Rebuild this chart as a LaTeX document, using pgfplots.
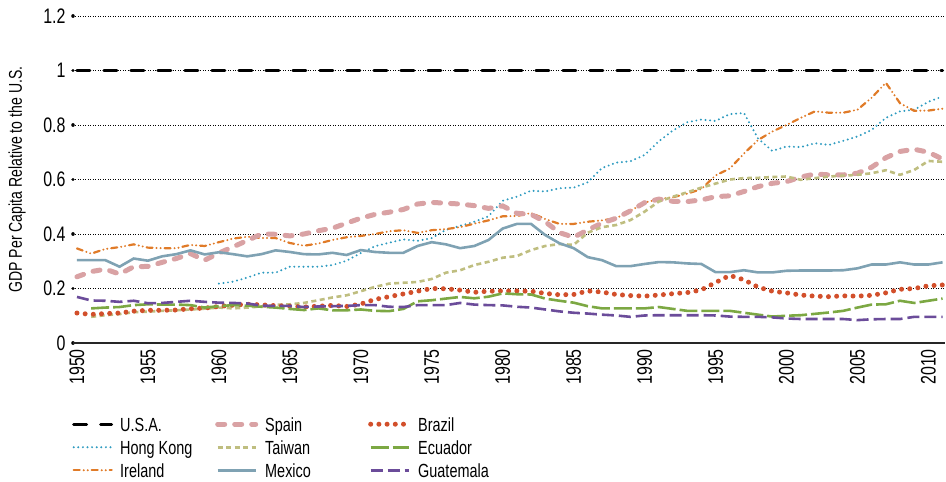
\documentclass[border=0pt]{standalone}
\usepackage{fontspec}
\setmainfont{Liberation Sans}[FakeStretch=0.76]
\usepackage{pgfplots}
\usepackage{pgfplotstable}
\pgfplotsset{compat=1.18}
\definecolor{cHK}{HTML}{2E9BC0}
\definecolor{cIRL}{HTML}{E07B28}
\definecolor{cESP}{HTML}{D9A2A4}
\definecolor{cTWN}{HTML}{BFBE80}
\definecolor{cMEX}{HTML}{7FA2B3}
\definecolor{cBRA}{HTML}{D24F2B}
\definecolor{cECU}{HTML}{7CA843}
\definecolor{cGTM}{HTML}{6B4C9A}
\pgfplotstableread{
year USA HK IRL ESP TWN MEX BRA ECU GTM
1950 1 nan 0.347 0.243 nan 0.304 0.110 nan 0.169
1951 1 nan 0.328 0.262 0.096 0.304 0.105 0.127 0.156
1952 1 nan 0.345 0.271 0.102 0.304 0.108 0.130 0.155
1953 1 nan 0.352 0.253 0.106 0.280 0.110 0.132 0.151
1954 1 nan 0.362 0.280 0.113 0.310 0.117 0.139 0.155
1955 1 nan 0.350 0.281 0.115 0.302 0.120 0.142 0.146
1956 1 nan 0.348 0.296 0.118 0.318 0.120 0.141 0.147
1957 1 nan 0.348 0.310 0.120 0.326 0.121 0.141 0.151
1958 1 nan 0.360 0.328 0.123 0.340 0.126 0.139 0.155
1959 1 nan 0.356 0.304 0.126 0.325 0.128 0.130 0.151
1960 1 0.218 0.370 0.330 0.130 0.333 0.134 0.135 0.148
1961 1 0.225 0.383 0.353 0.127 0.326 0.139 0.139 0.147
1962 1 0.240 0.390 0.376 0.130 0.318 0.142 0.137 0.145
1963 1 0.258 0.385 0.400 0.134 0.326 0.140 0.133 0.137
1964 1 0.258 0.385 0.399 0.140 0.340 0.137 0.130 0.136
1965 1 0.280 0.367 0.393 0.142 0.334 0.135 0.125 0.136
1966 1 0.280 0.357 0.400 0.147 0.326 0.132 0.121 0.132
1967 1 0.280 0.365 0.412 0.157 0.325 0.135 0.127 0.134
1968 1 0.286 0.378 0.421 0.167 0.331 0.138 0.120 0.135
1969 1 0.302 0.388 0.440 0.175 0.323 0.134 0.120 0.136
1970 1 0.330 0.393 0.458 0.190 0.341 0.143 0.123 0.139
1971 1 0.355 0.400 0.472 0.206 0.334 0.160 0.118 0.139
1972 1 0.368 0.410 0.480 0.218 0.331 0.170 0.117 0.133
1973 1 0.380 0.414 0.490 0.221 0.331 0.180 0.125 0.132
1974 1 0.375 0.404 0.510 0.224 0.356 0.190 0.153 0.139
1975 1 0.385 0.414 0.516 0.235 0.370 0.200 0.157 0.139
1976 1 0.415 0.418 0.513 0.258 0.362 0.199 0.163 0.139
1977 1 0.430 0.425 0.510 0.267 0.348 0.194 0.169 0.147
1978 1 0.445 0.438 0.504 0.286 0.356 0.186 0.164 0.141
1979 1 0.465 0.450 0.494 0.298 0.378 0.190 0.170 0.139
1980 1 0.522 0.465 0.503 0.313 0.420 0.191 0.182 0.138
1981 1 0.537 0.466 0.476 0.319 0.437 0.191 0.179 0.133
1982 1 0.559 0.477 0.472 0.341 0.437 0.190 0.178 0.130
1983 1 0.556 0.455 0.445 0.356 0.396 0.182 0.163 0.123
1984 1 0.568 0.437 0.405 0.363 0.366 0.177 0.155 0.116
1985 1 0.570 0.437 0.388 0.360 0.348 0.178 0.148 0.111
1986 1 0.590 0.445 0.415 0.405 0.315 0.191 0.135 0.108
1987 1 0.642 0.450 0.440 0.425 0.304 0.187 0.127 0.104
1988 1 0.662 0.458 0.458 0.433 0.282 0.178 0.127 0.101
1989 1 0.667 0.485 0.485 0.451 0.282 0.174 0.127 0.096
1990 1 0.690 0.515 0.515 0.482 0.290 0.172 0.127 0.101
1991 1 0.740 0.528 0.528 0.519 0.297 0.176 0.132 0.102
1992 1 0.780 0.535 0.520 0.537 0.296 0.181 0.125 0.102
1993 1 0.810 0.548 0.519 0.553 0.292 0.185 0.118 0.102
1994 1 0.820 0.565 0.525 0.570 0.290 0.195 0.118 0.102
1995 1 0.815 0.615 0.537 0.585 0.260 0.222 0.118 0.101
1996 1 0.840 0.640 0.540 0.600 0.260 0.248 0.118 0.097
1997 1 0.844 0.695 0.556 0.605 0.267 0.232 0.111 0.096
1998 1 0.750 0.745 0.574 0.606 0.259 0.205 0.104 0.096
1999 1 0.705 0.776 0.586 0.609 0.259 0.190 0.097 0.094
2000 1 0.721 0.800 0.592 0.611 0.265 0.184 0.100 0.090
2001 1 0.719 0.826 0.609 0.599 0.266 0.176 0.102 0.088
2002 1 0.733 0.850 0.620 0.605 0.266 0.172 0.107 0.088
2003 1 0.727 0.845 0.617 0.611 0.266 0.170 0.112 0.088
2004 1 0.742 0.845 0.617 0.614 0.267 0.173 0.118 0.088
2005 1 0.758 0.856 0.623 0.617 0.274 0.172 0.130 0.084
2006 1 0.782 0.900 0.645 0.623 0.288 0.175 0.141 0.087
2007 1 0.826 0.955 0.680 0.634 0.288 0.184 0.142 0.088
2008 1 0.850 0.880 0.703 0.617 0.296 0.197 0.155 0.088
2009 1 0.856 0.852 0.711 0.635 0.288 0.200 0.147 0.096
2010 1 0.885 0.853 0.700 0.668 0.288 0.210 0.155 0.096
2011 1 0.905 0.860 0.675 0.665 0.296 0.213 0.163 0.096
}\gdp
\tikzset{
  sUSA/.style={black, line width=3pt, line cap=round, dash pattern=on 13pt off 14pt},
  sHK/.style={cHK, line width=2.2pt, line cap=round, dash pattern=on 0pt off 4.6pt},
  sIRL/.style={cIRL, line width=2.2pt, line cap=round, dash pattern=on 6pt off 4pt on 0pt off 4pt on 0pt off 4pt},
  sESP/.style={cESP, line width=5pt, line cap=round, dash pattern=on 7pt off 10pt},
  sTWN/.style={cTWN, line width=2.6pt, dash pattern=on 5pt off 3.5pt},
  sMEX/.style={cMEX, line width=2.6pt},
  sBRA/.style={cBRA, line width=5pt, line cap=round, dash pattern=on 0pt off 8.2pt},
  sECU/.style={cECU, line width=2.6pt, dash pattern=on 18pt off 4pt},
  sGTM/.style={cGTM, line width=2.6pt, dash pattern=on 12pt off 5pt},
}
\begin{document}
\begin{tikzpicture}
\useasboundingbox (-73pt,-139pt) rectangle (873pt,343pt);
\begin{axis}[
  at={(0pt,0pt)}, anchor=south west,
  scale only axis, width=872pt, height=327pt,
  xmin=1949.72, xmax=2011.17, ymin=0, ymax=1.2,
  xtick={1950,1955,1960,1965,1970,1975,1980,1985,1990,1995,2000,2005,2010},
  xticklabels={1950,1955,1960,1965,1970,1975,1980,1985,1990,1995,2000,2005,2010},
  ytick={0,0.2,0.4,0.6,0.8,1,1.2},
  yticklabels={0,0.2,0.4,0.6,0.8,1,1.2},
  axis x line=bottom, axis y line=left,
  axis line style={-},
  y axis line style={draw=none},
  x axis line style={black!85, line width=1.3pt},
  ymajorgrids,
  major grid style={black, line width=0.7pt, dash pattern=on 0.7pt off 1.8pt},
  xtick style={draw=none},
  ytick style={black, line width=3.5pt, line cap=round},
  major tick length=0.01pt, tick align=center,
  tick label style={font=\fontsize{21}{21}\selectfont},
  xticklabel style={rotate=90, anchor=east, inner xsep=6pt},
  yticklabel style={xshift=-4pt},
  ylabel={GDP Per Capita Relative to the U.S.},
  ylabel style={font=\fontsize{18.5}{18.5}\selectfont, at={(axis description cs:-0.064,0.5)}, anchor=center},
  legend style={at={(axis description cs:0,0)}, anchor=north west, xshift=-1pt, yshift=-72pt,
    draw=none, fill=none, inner sep=0pt, row sep=5pt,
    font=\fontsize{19}{19}\selectfont,
    nodes={inner sep=2pt, text height=14pt, text depth=0pt},
    /tikz/every odd column/.append style={column sep=5pt}},
  legend columns=3,
  legend cell align=left,
  legend image code/.code={\draw[#1] (0pt,0pt) -- (38pt,0pt);},
]
\addplot[sUSA, forget plot] table[x=year, y=USA] {\gdp};
\addplot[sHK, forget plot] table[x=year, y=HK] {\gdp};
\addplot[sIRL, forget plot] table[x=year, y=IRL] {\gdp};
\addplot[sESP, forget plot] table[x=year, y=ESP] {\gdp};
\addplot[sTWN, forget plot] table[x=year, y=TWN] {\gdp};
\addplot[sMEX, forget plot] table[x=year, y=MEX] {\gdp};
\addplot[sBRA, forget plot] table[x=year, y=BRA] {\gdp};
\addplot[sECU, forget plot] table[x=year, y=ECU] {\gdp};
\addplot[sGTM, forget plot] table[x=year, y=GTM] {\gdp};
\addlegendimage{sUSA}\addlegendentry{\makebox[93pt][l]{U.S.A.}}
\addlegendimage{sESP}\addlegendentry{\makebox[101pt][l]{Spain}}
\addlegendimage{sBRA}\addlegendentry{Brazil}
\addlegendimage{sHK}\addlegendentry{\makebox[93pt][l]{Hong Kong}}
\addlegendimage{sTWN}\addlegendentry{\makebox[101pt][l]{Taiwan}}
\addlegendimage{sECU}\addlegendentry{Ecuador}
\addlegendimage{sIRL}\addlegendentry{\makebox[93pt][l]{Ireland}}
\addlegendimage{sMEX}\addlegendentry{\makebox[101pt][l]{Mexico}}
\addlegendimage{sGTM}\addlegendentry{Guatemala}
\end{axis}
\end{tikzpicture}
\end{document}
